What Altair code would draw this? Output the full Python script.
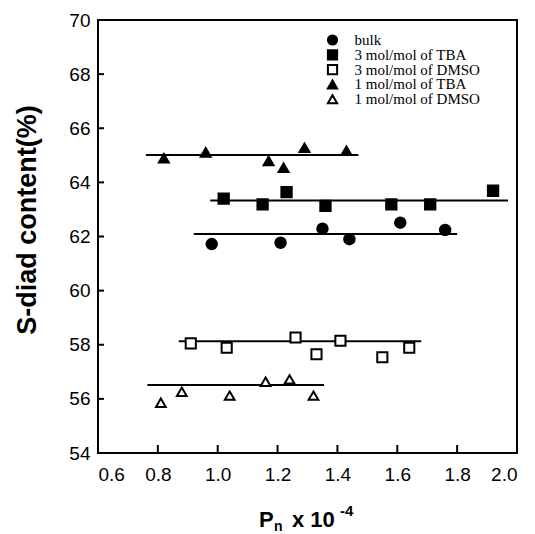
import altair as alt
import pandas as pd

# ---- data ----
series_names = ["bulk", "3 mol/mol of TBA", "3 mol/mol of DMSO", "1 mol/mol of TBA", "1 mol/mol of DMSO"]

bulk_x = [0.98, 1.21, 1.35, 1.44, 1.61, 1.76]
bulk_y = [61.72, 61.77, 62.29, 61.90, 62.51, 62.24]
tba3_x = [1.02, 1.15, 1.23, 1.36, 1.58, 1.71, 1.92]
tba3_y = [63.40, 63.19, 63.64, 63.13, 63.19, 63.19, 63.69]
dmso3_x = [0.91, 1.03, 1.26, 1.33, 1.41, 1.55, 1.64]
dmso3_y = [58.05, 57.89, 58.27, 57.65, 58.15, 57.54, 57.89]
tba1_x = [0.82, 0.96, 1.17, 1.22, 1.29, 1.43]
tba1_y = [64.89, 65.11, 64.79, 64.54, 65.28, 65.17]
dmso1_x = [0.81, 0.88, 1.04, 1.16, 1.24, 1.32]
dmso1_y = [55.86, 56.26, 56.12, 56.63, 56.72, 56.12]

# average lines: start, end, level
line_x1 = [0.92, 0.975, 0.87, 0.76, 0.765]
line_x2 = [1.80, 1.97, 1.68, 1.47, 1.355]
line_y = [62.09, 63.33, 58.13, 65.01, 56.51]

x_ticks = [0.6, 0.8, 1.0, 1.2, 1.4, 1.6, 1.8, 2.0]
y_ticks = [54, 56, 58, 60, 62, 64, 66, 68, 70]

shapes = ["circle", "square", "square", "triangle-up", "triangle-up"]
fills = ["black", "black", "white", "black", "white"]
sizes = [110, 95, 90, 120, 100]

# ---- tables ----
rows = []
for name, xs, ys in zip(series_names,
                        [bulk_x, tba3_x, dmso3_x, tba1_x, dmso1_x],
                        [bulk_y, tba3_y, dmso3_y, tba1_y, dmso1_y]):
    for xv, yv in zip(xs, ys):
        rows.append({"series": name, "x": xv, "y": yv})
points_df = pd.DataFrame(rows)
lines_df = pd.DataFrame({"series": series_names, "x1": line_x1, "x2": line_x2, "y": line_y})
xt_df = pd.DataFrame({"v": x_ticks})
yt_df = pd.DataFrame({"v": y_ticks})
# legend rows (pixel offsets inside the plot area)
legend_df = pd.DataFrame({"series": series_names,
                          "ly": [20 + 14.8 * i for i in range(len(series_names))]})

W, H = 419, 433
xscale = alt.Scale(domain=[0.6, 2.0], nice=False, zero=False)
yscale = alt.Scale(domain=[54, 70], nice=False, zero=False)
shape_scale = alt.Scale(domain=series_names, range=shapes)
fill_scale = alt.Scale(domain=series_names, range=fills)
size_scale = alt.Scale(domain=series_names, range=sizes)

xaxis = alt.Axis(values=x_ticks, format=".1f", ticks=False, domain=False, grid=False,
                 labelFont="Liberation Sans", labelFontSize=19, labelColor="black",
                 labelPadding=12, title=None)
yaxis = alt.Axis(values=y_ticks, format="d", ticks=False, domain=False, grid=False,
                 labelFont="Liberation Sans", labelFontSize=19, labelColor="black",
                 labelPadding=8, title=None)

lines = alt.Chart(lines_df).mark_rule(color="black", strokeWidth=2).encode(
    x=alt.X("x1:Q", scale=xscale, axis=xaxis),
    x2="x2:Q",
    y=alt.Y("y:Q", scale=yscale, axis=yaxis),
)

points = alt.Chart(points_df).mark_point(filled=True, stroke="black", strokeWidth=2, opacity=1).encode(
    x=alt.X("x:Q", scale=xscale),
    y=alt.Y("y:Q", scale=yscale),
    shape=alt.Shape("series:N", scale=shape_scale, legend=None),
    fill=alt.Fill("series:N", scale=fill_scale, legend=None),
    size=alt.Size("series:N", scale=size_scale, legend=None),
)

legend_sym = alt.Chart(legend_df).mark_point(filled=True, stroke="black", strokeWidth=2, opacity=1).encode(
    x=alt.value(234.5),
    y=alt.Y("ly:Q", scale=None),
    shape=alt.Shape("series:N", scale=shape_scale, legend=None),
    fill=alt.Fill("series:N", scale=fill_scale, legend=None),
    size=alt.value(85),
)
legend_txt = alt.Chart(legend_df).mark_text(
    font="Liberation Serif", fontSize=15, color="black", align="left", baseline="middle"
).encode(
    x=alt.value(256.5),
    y=alt.Y("ly:Q", scale=None),
    text="series:N",
)

xticks = alt.Chart(xt_df).mark_rule(color="black", strokeWidth=2).encode(
    x=alt.X("v:Q", scale=xscale),
    y=alt.value(H),
    y2=alt.value(H - 8),
)
yticks = alt.Chart(yt_df).mark_rule(color="black", strokeWidth=2).encode(
    y=alt.Y("v:Q", scale=yscale),
    x=alt.value(0),
    x2=alt.value(6),
)

ytitle = alt.Chart(pd.DataFrame({"t": ["S-diad content(%)"]})).mark_text(
    angle=270, font="Liberation Sans", fontSize=27, fontWeight="bold", color="black",
    align="center", baseline="middle"
).encode(text="t:N", x=alt.value(-70), y=alt.value(200))

xt_main = alt.Chart(pd.DataFrame({"t": ["P"]})).mark_text(
    font="Liberation Sans", fontSize=22, fontWeight="bold", color="black",
    align="left", baseline="alphabetic"
).encode(text="t:N", x=alt.value(161), y=alt.value(507))
xt_sub = alt.Chart(pd.DataFrame({"t": ["n"]})).mark_text(
    font="Liberation Sans", fontSize=14, fontWeight="bold", color="black",
    align="left", baseline="alphabetic"
).encode(text="t:N", x=alt.value(176), y=alt.value(511))
xt_mid = alt.Chart(pd.DataFrame({"t": ["x 10"]})).mark_text(
    font="Liberation Sans", fontSize=22, fontWeight="bold", color="black",
    align="left", baseline="alphabetic"
).encode(text="t:N", x=alt.value(194), y=alt.value(507))
xt_sup = alt.Chart(pd.DataFrame({"t": ["-4"]})).mark_text(
    font="Liberation Sans", fontSize=15, fontWeight="bold", color="black",
    align="left", baseline="alphabetic"
).encode(text="t:N", x=alt.value(242), y=alt.value(496))

chart = alt.layer(lines, points, legend_sym, legend_txt, xticks, yticks,
                  ytitle, xt_main, xt_sub, xt_mid, xt_sup).properties(
    width=W, height=H,
    autosize=alt.AutoSizeParams(type="none"),
    padding={"left": 90, "top": 12, "right": 10, "bottom": 81},
    background="white",
).configure_view(stroke="black", strokeWidth=2)

chart.save("out.html", embed_options={"renderer": "svg", "actions": False})
